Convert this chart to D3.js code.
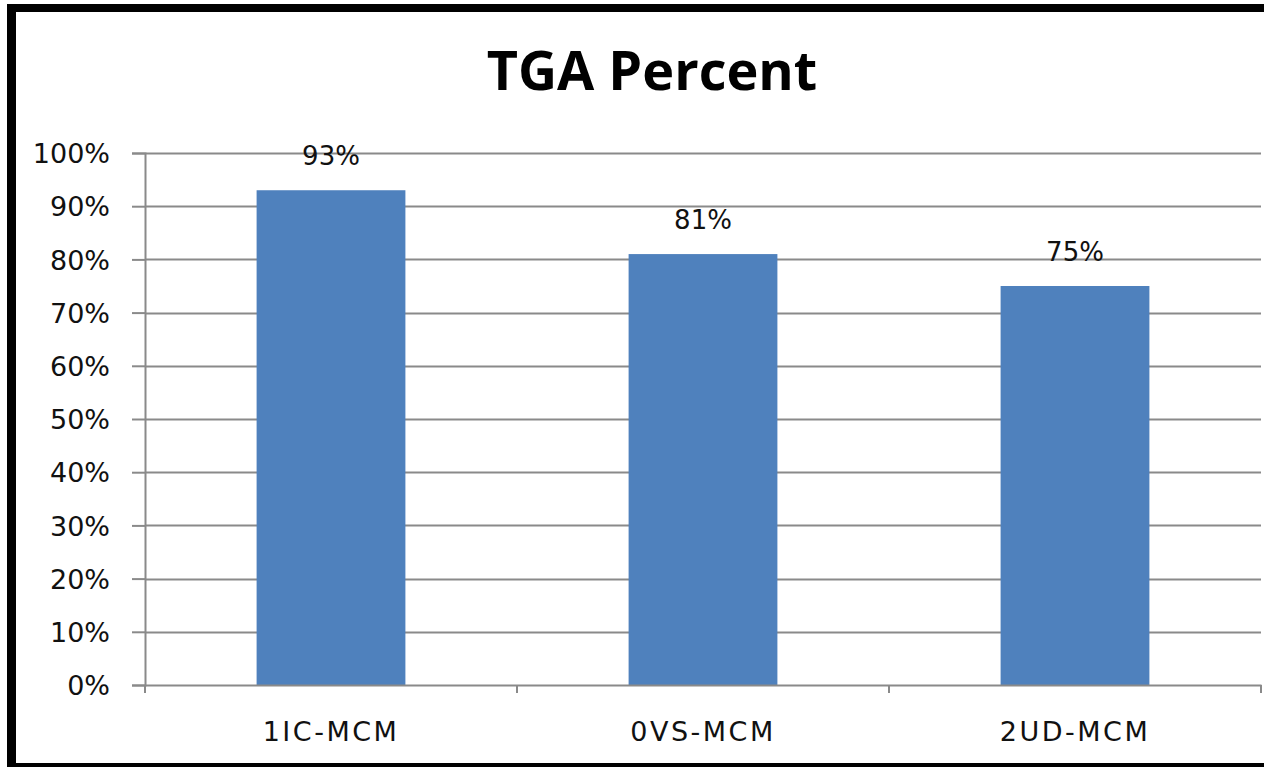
<!DOCTYPE html>
<html>
<head>
<meta charset="utf-8">
<script src="https://cdn.jsdelivr.net/npm/d3@7"></script>
<style>
  html, body { margin: 0; padding: 0; background: #fff; }
  svg { display: block; }
</style>
</head>
<body>
<svg id="chart" width="1264" height="767"></svg>
<script>
const title = "TGA Percent";
const categories = ["1IC-MCM", "0VS-MCM", "2UD-MCM"];
const values = [0.93, 0.81, 0.75];
const yTicks = [0, 0.1, 0.2, 0.3, 0.4, 0.5, 0.6, 0.7, 0.8, 0.9, 1.0];

(function () {
const svg = d3.select("#chart");
const W = 1264, H = 767;
const pLeft = 145, pRight = 1261, pTop = 153, pBottom = 685;

svg.append("rect").attr("x", 0).attr("y", 0).attr("width", W).attr("height", H).attr("fill", "#fff");

// black border (left, top, bottom)
svg.append("rect").attr("x", 7).attr("y", 4).attr("width", W).attr("height", 8).attr("fill", "#000");
svg.append("rect").attr("x", 7).attr("y", 4).attr("width", 9).attr("height", H).attr("fill", "#000");
svg.append("rect").attr("x", 7).attr("y", 763).attr("width", W).attr("height", 4).attr("fill", "#000");

const x = d3.scaleBand().domain(categories).range([pLeft, pRight]).paddingInner(0.6).paddingOuter(0.3);
const xb = d3.scaleBand().domain(categories).range([pLeft, pRight]);
const y = d3.scaleLinear().domain([0, 1]).range([pBottom, pTop]);

const grid = "#8a8a8a";

// gridlines
svg.append("g").selectAll("line").data(yTicks.filter(d => d > 0)).join("line")
  .attr("x1", pLeft).attr("x2", pRight)
  .attr("y1", d => Math.round(y(d)) + 0.5).attr("y2", d => Math.round(y(d)) + 0.5)
  .attr("stroke", grid).attr("stroke-width", 2);

// bars
svg.append("g").selectAll("rect").data(values).join("rect")
  .attr("x", (d, i) => x(categories[i]))
  .attr("width", x.bandwidth())
  .attr("y", d => y(d))
  .attr("height", d => y(0) - y(d))
  .attr("fill", "#4F81BD");

// y axis
const yAxis = d3.axisLeft(y).tickValues(yTicks).tickFormat(d3.format(".0%")).tickSize(13).tickPadding(22);
const gy = svg.append("g").attr("transform", `translate(${pLeft},0)`).call(yAxis);
gy.select(".domain").attr("stroke", grid).attr("stroke-width", 2);
gy.selectAll(".tick line").attr("stroke", grid).attr("stroke-width", 2);
gy.selectAll(".tick text").attr("fill", "#111").attr("font-family", "DejaVu Sans").attr("font-size", 27).attr("dy", "0.36em");

// x axis
const xAxis = d3.axisBottom(xb).tickSize(0).tickPadding(37);
const gx = svg.append("g").attr("transform", `translate(0,${pBottom})`).call(xAxis);
gx.select(".domain").attr("stroke", grid).attr("stroke-width", 2);
gx.selectAll(".tick text").attr("fill", "#111").attr("font-family", "DejaVu Sans").attr("font-size", 27).attr("letter-spacing", 2.5);
// category boundary ticks
const bounds = categories.map(c => xb(c)).concat([pRight]);
gx.append("g").selectAll("line").data(bounds).join("line")
  .attr("x1", d => d).attr("x2", d => d).attr("y1", 0).attr("y2", 8)
  .attr("stroke", grid).attr("stroke-width", 2);

// value labels
svg.append("g").selectAll("text").data(values).join("text")
  .attr("x", (d, i) => x(categories[i]) + x.bandwidth() / 2)
  .attr("y", d => y(d) - 25)
  .attr("text-anchor", "middle")
  .attr("font-family", "DejaVu Sans").attr("font-size", 26).attr("fill", "#111")
  .text(d => d3.format(".0%")(d));

// title
svg.append("text").attr("x", 652).attr("y", 90).attr("text-anchor", "middle")
  .attr("font-family", "Open Sans").attr("font-weight", "bold").attr("font-size", 54)
  .attr("fill", "#000").text(title);
})();
</script>
</body>
</html>
